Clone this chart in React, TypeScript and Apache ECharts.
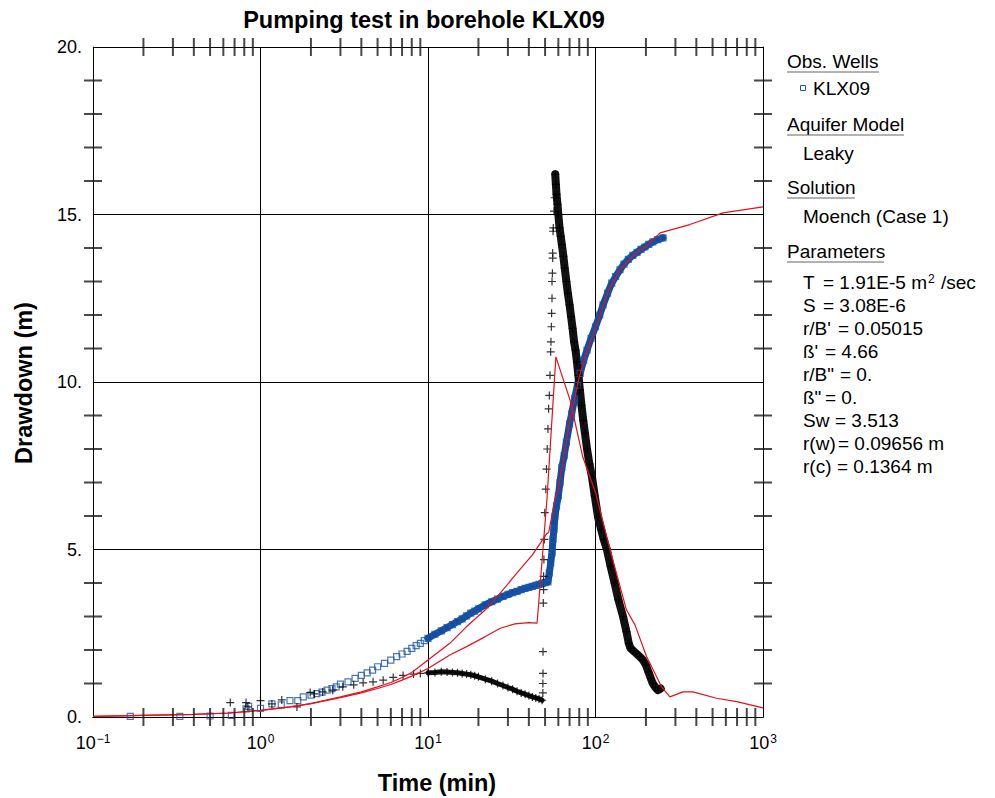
import React, { useEffect, useRef } from 'react';
import * as echarts from 'echarts';

// ---------- text ----------
const chartTitle = 'Pumping test in borehole KLX09';
const xAxisTitle = 'Time (min)';
const yAxisTitle = 'Drawdown (m)';
const xMin = 0.1;
const xMax = 1000;
const yMin = 0;
const yMax = 20;
const yStep = 5;
const yMinorStep = 1;
const minorDecades = [0.1, 1, 10, 100];
const minorMultipliers = [2, 3, 4, 5, 6, 7, 8, 9];

// ---------- observed drawdown (blue squares) ----------
const obsEarly: [number, number][] = [
  [0.167, 0.02], [0.33, 0.02], [0.5, 0.03], [0.67, 0.05], [0.82, 0.24], [0.85, 0.32],
  [1.0, 0.26], [1.17, 0.39], [1.33, 0.36], [1.5, 0.49], [1.67, 0.49], [1.8, 0.6],
  [2.0, 0.65], [2.17, 0.7], [2.33, 0.74], [2.5, 0.8], [2.67, 0.85], [2.83, 0.9],
  [3.0, 0.98], [3.33, 1.05], [3.67, 1.15], [4.0, 1.24], [4.33, 1.32], [4.67, 1.4],
  [5.0, 1.5], [5.5, 1.6], [6.0, 1.7], [6.5, 1.8], [7.0, 1.88], [7.5, 1.96], [8.0, 2.05],
  [8.5, 2.13], [9.0, 2.2], [9.5, 2.28],
];
const obsDense: [number, number][] = [
  [10, 2.35], [11, 2.47], [12, 2.57], [13, 2.67], [14, 2.76], [15, 2.85], [16, 2.93],
  [17, 3.02], [18, 3.1], [19, 3.16], [20, 3.23], [22, 3.35], [24, 3.44], [26, 3.52],
  [28, 3.6], [30, 3.66], [32, 3.71], [34, 3.75], [36, 3.8], [38, 3.84], [40, 3.87],
  [42, 3.9], [44, 3.93], [46, 3.96], [48, 3.99], [50, 4.01], [52, 4.03], [53, 4.3],
  [54, 4.6], [55, 4.9], [55.7, 5.3], [56.5, 5.6], [57.3, 6.0], [58.5, 6.3], [60, 6.6],
  [61.4, 7.0], [63, 7.45], [65, 7.8], [67, 8.2], [70, 8.75], [72, 9.05], [75, 9.5],
  [78, 9.9], [81, 10.26], [85, 10.65], [89, 10.95], [94, 11.3], [100, 11.65], [106, 12.0],
  [111, 12.3], [118, 12.65], [125, 12.95], [132, 13.15], [140, 13.35], [148, 13.52],
  [157, 13.66], [167, 13.78], [177, 13.87], [187, 13.96], [197, 14.03], [208, 14.11],
  [220, 14.18], [235, 14.25], [253, 14.3],
];

// ---------- derivative (black crosses) ----------
const derivEarly: [number, number][] = [
  [0.66, 0.43], [0.82, 0.43], [0.84, 0.3], [1.0, 0.49], [1.17, 0.39], [1.34, 0.51],
  [1.65, 0.3], [1.98, 0.73], [2.1, 0.69], [2.35, 0.75], [2.7, 0.8], [3.1, 0.9],
  [3.6, 0.96], [4.1, 1.02], [4.7, 1.05], [5.4, 1.1], [6.2, 1.18], [7.1, 1.24],
  [8.2, 1.28], [9.0, 1.3],
];
const derivDense1: [number, number][] = [
  [10, 1.32], [11, 1.33], [12, 1.35], [13, 1.34], [14, 1.33], [15, 1.32], [16, 1.3],
  [17, 1.28], [18, 1.26], [19, 1.23], [20, 1.2], [22, 1.13], [24, 1.07], [26, 1.0],
  [28, 0.94], [30, 0.88], [32, 0.83], [34, 0.77], [36, 0.72], [38, 0.68], [40, 0.64],
  [42, 0.6], [44, 0.57], [46, 0.54], [48, 0.5],
];
const derivRise: [number, number][] = [
  [48.5, 0.72], [48.5, 1.0], [48.6, 1.3], [48.6, 1.95], [48.8, 3.4], [49, 3.8], [49, 4.2],
  [49.2, 4.7], [49.5, 5.3], [49.8, 6.1], [50.5, 6.8], [51, 7.4], [51.5, 8.0], [52, 8.6],
  [52.5, 9.2], [53, 9.6], [53.5, 10.2], [54, 10.9], [54.2, 11.2], [54.5, 11.65],
  [54.7, 12.05], [55, 12.5], [55, 13.0], [55.3, 13.25], [55.5, 13.7], [55.5, 13.85],
  [55.8, 14.5], [56, 14.6], [56.5, 15.1], [57, 15.5],
];
const derivDense2: [number, number][] = [
  [57.5, 16.2], [58, 15.9], [58.5, 15.6], [59.3, 15.3], [60, 15.0], [61, 14.6], [62, 14.35],
  [63, 14.1], [64.3, 13.75], [65.5, 13.4], [67, 13.0], [68.4, 12.65], [70, 12.3],
  [71.5, 11.95], [73, 11.6], [74.5, 11.2], [76, 10.95], [77.5, 10.6], [79, 10.2],
  [80.7, 9.76], [82.5, 9.3], [84.5, 8.85], [86.5, 8.47], [89, 8.0], [92, 7.55],
  [95.3, 7.16], [99, 6.6], [103.5, 5.97], [108, 5.6], [112, 5.3], [117, 5.0], [123, 4.5],
  [130, 4.0], [137, 3.5], [146, 3.0], [153, 2.55], [158, 2.2], [162, 2.05], [168, 1.98],
  [175, 1.9], [184, 1.8], [192, 1.7], [200, 1.55], [207, 1.35], [214, 1.15], [220, 1.0],
  [228, 0.88], [236, 0.8], [245, 0.85],
];

// ---------- model curves (red) ----------
const modelDrawdown: [number, number][] = [
  [0.1, 0.02], [0.2, 0.05], [0.4, 0.08], [0.66, 0.12], [1.0, 0.2], [1.5, 0.3], [2.0, 0.4],
  [3.0, 0.6], [4.0, 0.75], [5.0, 0.9], [6.0, 1.03], [7.0, 1.18], [8.0, 1.33], [10, 1.7],
  [13.5, 2.2], [17, 2.7], [22, 3.2], [27, 3.7], [34, 4.3], [42, 4.84], [47, 5.2],
  [51.3, 5.48], [52.5, 5.5], [57.3, 6.5], [60, 6.75], [65, 7.85], [70, 8.8], [80, 10.15],
  [90, 11.0], [100, 11.6], [120, 12.75], [140, 13.35], [170, 13.8], [200, 14.05],
  [243, 14.45], [366, 14.7], [577, 15.05], [1000, 15.23],
];
const modelDerivative: [number, number][] = [
  [0.1, 0.02], [0.2, 0.05], [0.4, 0.08], [0.66, 0.12], [1.0, 0.2], [1.5, 0.3], [2.0, 0.4],
  [3.0, 0.58], [4.0, 0.72], [5.0, 0.85], [6.0, 0.97], [7.0, 1.1], [8.0, 1.22], [10, 1.45],
  [13.5, 1.85], [17, 2.1], [22, 2.4], [27, 2.65], [33, 2.78], [40, 2.82], [44.8, 2.8],
  [51.3, 6.5], [58, 10.75], [70.5, 9.46], [84, 7.76], [100, 6.7], [122, 5.0], [153, 3.2],
  [172, 2.75], [202, 1.8], [248, 0.9], [278, 0.6], [333, 0.75], [382, 0.75], [528, 0.56],
  [697, 0.46], [1000, 0.27],
];

// ---------- legend / parameter panel ----------
const wellName = 'KLX09';
const aquiferModel = 'Leaky';
const solutionName = 'Moench (Case 1)';
const paramNames = ['T', 'S', "r/B'", "ß'", 'r/B"', 'ß"', 'Sw', 'r(w)', 'r(c)'];
const paramValues = ['= 1.91E-5 m{sup|2} /sec', '= 3.08E-6', '= 0.05015', '= 4.66', '= 0.', '= 0.', '= 3.513', '= 0.09656 m', '= 0.1364 m'];

const FONT = "'Liberation Sans', Arial, Helvetica, sans-serif";
const BLUE = '#1a57a8';
const BLUE_BAND = '#114c9e';
const RED = '#e8101c';
const TICK_COLOR = '#1a1a1a';

export default function App() {
  const ref = useRef<HTMLDivElement>(null);

  useEffect(() => {
    if (!ref.current) return;
    const chart = echarts.init(ref.current, null, { renderer: 'svg' });

    const xMinorTicks: number[] = [];
    minorDecades.forEach((d) => minorMultipliers.forEach((m) => xMinorTicks.push(+(d * m).toPrecision(3))));
    const yMinorTicks: number[] = [];
    for (let v = yMin + yMinorStep; v < yMax; v += yMinorStep) if (v % yStep !== 0) yMinorTicks.push(v);

    const expLabel = (v: number) => {
      const e = Math.round(Math.log10(v));
      const s = e < 0 ? '\u2212' + -e : String(e);
      return `{b|10}{s|${s}}`;
    };

    const axisLine = { show: true, lineStyle: { color: '#000', width: 1 } };
    const TICK = 9;

    const textEl = (text: string, x: number, y: number, size = 19, extra: any = {}) => ({
      type: 'text',
      x,
      y,
      silent: true,
      style: { text, fill: '#000', fontFamily: FONT, fontSize: size, verticalAlign: 'middle', align: 'left', ...extra },
    });
    const underline = (x: number, y: number, w: number) => ({
      type: 'line',
      silent: true,
      shape: { x1: x, y1: y, x2: x + w, y2: y },
      style: { stroke: '#666', lineWidth: 1.2 },
    });

    const paramEqX = [823, 823, 838, 825, 840, 825, 835, 838, 837];
    const graphics: any[] = [
      textEl(chartTitle, 424, 20, 23.5, { fontWeight: 'bold', align: 'center' }),
      textEl(xAxisTitle, 437, 783, 23.5, { fontWeight: 'bold', align: 'center' }),
      {
        type: 'text',
        x: 24,
        y: 383,
        rotation: Math.PI / 2,
        silent: true,
        style: { text: yAxisTitle, fill: '#000', fontFamily: FONT, fontSize: 23.5, fontWeight: 'bold', align: 'center', verticalAlign: 'middle' },
      },
      textEl('Obs. Wells', 787, 61),
      underline(787, 72, 92),
      {
        type: 'rect',
        silent: true,
        shape: { x: 800.5, y: 85.5, width: 5, height: 5 },
        style: { fill: 'none', stroke: BLUE, lineWidth: 1 },
      },
      textEl(wellName, 813, 88),
      textEl('Aquifer Model', 787, 124),
      underline(787, 135, 117),
      textEl(aquiferModel, 803, 153),
      textEl('Solution', 787, 187),
      underline(787, 198, 68),
      textEl(solutionName, 803, 216),
      textEl('Parameters', 787, 251),
      underline(787, 262, 97),
    ];
    paramNames.forEach((n, i) => {
      graphics.push(textEl(n, 803, 282 + 23 * i));
      graphics.push(
        textEl(paramValues[i], paramEqX[i], 282 + 23 * i, 19, {
          rich: { sup: { fontSize: 12, fontFamily: FONT, fill: '#000', verticalAlign: 'top', lineHeight: 12, padding: [0, 1, 0, 1] } },
        })
      );
    });

    // tick marks as small bars positioned through the axes
    const tickSeries = (data: [number, number][], size: [number, number]) => ({
      type: 'scatter',
      data,
      symbol: 'rect',
      symbolSize: size,
      clip: false,
      itemStyle: { color: TICK_COLOR },
      z: 8,
    });

    const scatterSquare = (data: [number, number][]) => ({
      type: 'scatter',
      data,
      symbol: 'rect',
      symbolSize: 6,
      silent: true,
      itemStyle: { color: 'rgba(255,255,255,0)', borderColor: BLUE, borderWidth: 1.2 },
      z: 3,
    });
    const scatterCross = (data: [number, number][]) => ({
      type: 'scatter',
      data,
      symbol: 'path://M0,4L8,4M4,0L4,8',
      symbolSize: 8,
      silent: true,
      itemStyle: { color: 'rgba(0,0,0,0)', borderColor: '#000', borderWidth: 1.2 },
      z: 4,
    });
    const band = (data: [number, number][], color: string, width: number, z: number) => ({
      type: 'line',
      data,
      showSymbol: false,
      symbol: 'none',
      silent: true,
      lineStyle: { color, width, join: 'round', cap: 'round' },
      z,
    });
    const redLine = (data: [number, number][]) => ({
      type: 'line',
      data,
      showSymbol: false,
      symbol: 'none',
      silent: true,
      lineStyle: { color: RED, width: 1.2 },
      z: 6,
    });

    const option: any = {
      animation: false,
      backgroundColor: '#fff',
      textStyle: { fontFamily: FONT },
      grid: { left: 93, top: 47, width: 670, height: 670 },
      xAxis: [
        {
          type: 'log',
          logBase: 10,
          min: xMin,
          max: xMax,
          position: 'bottom',
          axisLine,
          axisTick: { show: false },
          splitLine: { show: true, lineStyle: { color: '#000', width: 1 } },
          axisLabel: {
            margin: 16,
            formatter: expLabel,
            rich: {
              b: { fontSize: 18, color: '#000', fontFamily: FONT, lineHeight: 20 },
              s: { fontSize: 12, color: '#000', fontFamily: FONT, lineHeight: 12, verticalAlign: 'top', padding: [0, 0, 0, 1] },
            },
          },
        },
        {
          type: 'log',
          logBase: 10,
          min: xMin,
          max: xMax,
          position: 'top',
          axisLine,
          axisTick: { show: false },
          axisLabel: { show: false },
          splitLine: { show: false },
        },
      ],
      yAxis: [
        {
          type: 'value',
          min: yMin,
          max: yMax,
          interval: yStep,
          position: 'left',
          axisLine,
          axisTick: { show: false },
          splitLine: { show: true, lineStyle: { color: '#000', width: 1 } },
          axisLabel: { margin: 11, fontSize: 18, color: '#000', fontFamily: FONT, formatter: (v: number) => `${v}.` },
        },
        {
          type: 'value',
          min: yMin,
          max: yMax,
          interval: yStep,
          position: 'right',
          axisLine,
          axisTick: { show: false },
          splitLine: { show: false },
          axisLabel: { show: false },
        },
      ],
      series: [
        band(obsDense, BLUE_BAND, 7, 2),
        scatterSquare(obsEarly),
        scatterSquare(obsDense),
        band(derivDense1, '#111', 5, 3),
        band(derivDense2, '#111', 8, 3),
        scatterCross(derivEarly),
        scatterCross(derivDense1),
        scatterCross(derivRise),
        scatterCross(derivDense2),
        redLine(modelDrawdown),
        redLine(modelDerivative),
        tickSeries(xMinorTicks.map((v) => [v, yMin] as [number, number]), [2, TICK * 2]),
        tickSeries(xMinorTicks.map((v) => [v, yMax] as [number, number]), [2, TICK * 2]),
        tickSeries(yMinorTicks.map((v) => [xMin, v] as [number, number]), [TICK * 2, 2]),
        tickSeries(yMinorTicks.map((v) => [xMax, v] as [number, number]), [TICK * 2, 2]),
      ],
      graphic: graphics,
    };

    chart.setOption(option);
    return () => chart.dispose();
  }, []);

  return (
    <div
      ref={ref}
      style={{ position: 'absolute', left: 0, top: 0, width: 995, height: 798, background: '#fff' }}
    />
  );
}
